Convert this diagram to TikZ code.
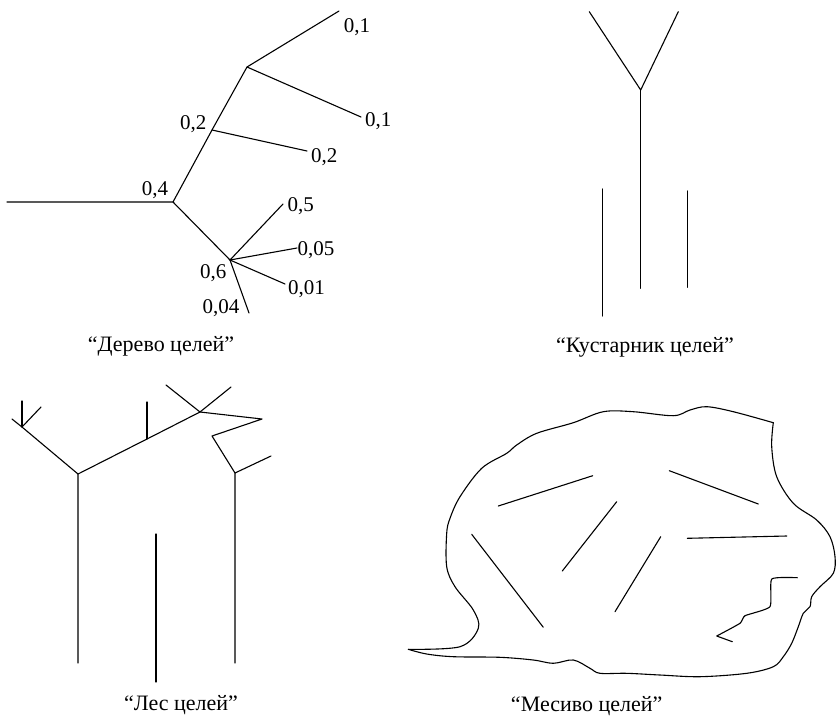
\documentclass[tikz,border=0pt]{standalone}
\usepackage{fontspec}
\setmainfont{Liberation Serif}
\begin{document}
\begin{tikzpicture}[x=1pt,y=-1pt,
  ln/.style={line width=1.1pt,line cap=round,line join=round},
  lbl/.style={anchor=base,inner sep=0pt,font=\fontsize{21}{24}\selectfont},
  capt/.style={anchor=base,inner sep=0pt,font=\fontsize{22}{25}\selectfont}]
\useasboundingbox (0,0) rectangle (837,715);
% ---------- Tree of goals ----------
\coordinate (t0) at (7,202);
\coordinate (t1) at (173,202);
\coordinate (t2) at (212,130);
\coordinate (t3) at (247,67);
\coordinate (t3a) at (339,11);
\coordinate (t3b) at (361,117);
\coordinate (t2a) at (307,151);
\coordinate (t4) at (230,260);
\coordinate (t4a) at (283,204);
\coordinate (t4b) at (297,248);
\coordinate (t4c) at (285,284);
\coordinate (t4d) at (249,313);
\draw[ln] (t0) -- (t1) -- (t2) -- (t3) -- (t3a);
\draw[ln] (t3) -- (t3b);
\draw[ln] (t2) -- (t2a);
\draw[ln] (t1) -- (t4) -- (t4a);
\draw[ln] (t4) -- (t4b);
\draw[ln] (t4) -- (t4c);
\draw[ln] (t4) -- (t4d);
\node[lbl] (l1) at (357,32.3) {0,1};
\node[lbl] (l2) at (378.3,126) {0,1};
\node[lbl] (l3) at (324.2,162.3) {0,2};
\node[lbl] (l4) at (193.3,129.3) {0,2};
\node[lbl] (l5) at (155,195) {0,4};
\node[lbl] (l6) at (300.8,211) {0,5};
\node[lbl] (l7) at (316,255.7) {0,05};
\node[lbl] (l8) at (306.5,294) {0,01};
\node[lbl] (l9) at (213.3,278.3) {0,6};
\node[lbl] (l10) at (221,313.3) {0,04};
\node[capt] (c1) at (161,351.7) {“Дерево целей”};
% ---------- Bush of goals ----------
\coordinate (b0) at (640.7,90);
\coordinate (b1) at (589.3,11.7);
\coordinate (b2) at (678.3,11.7);
\coordinate (b3) at (640.7,288.3);
\draw[ln] (b1) -- (b0) -- (b2);
\draw[ln] (b0) -- (b3);
\coordinate (b4) at (602.3,189);
\coordinate (b5) at (602.3,316);
\draw[ln] (b4) -- (b5);
\coordinate (b6) at (687.3,191);
\coordinate (b7) at (687.3,287.3);
\draw[ln] (b6) -- (b7);
\node[capt] (c2) at (645,352) {“Кустарник целей”};
% ---------- Forest of goals ----------
\coordinate (f0) at (78,663);
\coordinate (f1) at (78,474);
\coordinate (f2) at (22,427);
\coordinate (f3) at (12,419);
\coordinate (f4) at (22,401);
\coordinate (f5) at (41,407);
\coordinate (f6) at (147,439);
\coordinate (f7) at (147,402);
\coordinate (f8) at (200,412);
\coordinate (f9) at (166,385);
\coordinate (f10) at (231,387);
\coordinate (f11) at (262,419);
\coordinate (f12) at (212,436);
\coordinate (f13) at (235,473);
\coordinate (f14) at (235,663);
\coordinate (f15) at (271,456);
\coordinate (f16) at (156,534);
\coordinate (f17) at (156,682);
\draw[ln] (f0) -- (f1) -- (f2) -- (f3);
\draw[ln] (f2) -- (f4);
\draw[ln] (f2) -- (f5);
\draw[ln] (f1) -- (f6) -- (f8) -- (f11) -- (f12) -- (f13) -- (f14);
\draw[ln] (f6) -- (f7);
\draw[ln] (f8) -- (f9);
\draw[ln] (f8) -- (f10);
\draw[ln] (f13) -- (f15);
\draw[ln] (f16) -- (f17);
\node[capt] (c3) at (181,710) {“Лес целей”};
% ---------- Mess of goals ----------
\draw[ln] plot[smooth,tension=0.55] coordinates {
  (408.3,649.3) (460,646.7) (478.3,628.3) (473.3,610) (455,586.7)
  (446.7,566.7) (446.7,533.3) (450,518.3) (460,496.7) (481.7,468.3)
  (506.7,453.3) (516.7,445) (536.7,433.3) (573.3,422.7) (603.3,411.7)
  (633.3,411.7) (673.3,415.7) (690,410) (706.7,406.7) (733.3,411.7)
  (773.3,422.7)};
\draw[ln] plot[smooth,tension=0.55] coordinates {
  (773.3,422.7) (771.7,446.7) (776.7,476.7) (793.3,503.3) (816.7,520)
  (830,536.7) (835,556.7) (833.3,573.3) (820,586.7) (811.7,596.7)
  (810,606.7) (803.3,613.3) (798.3,626.7) (791.7,643.3) (783.3,656.7)
  (773.3,666.7) (746.7,673.3) (700,676.7) (660,675) (626.7,673.3)
  (600,673.3) (590,668.3) (573.3,660) (553.3,663.3) (533.3,660)
  (500,657.3) (453.3,656.7) (426.7,654) (408.3,649.3)};
\draw[ln] plot[smooth,tension=0.3] coordinates {
  (797.3,577.7) (771.7,579) (770,606.7) (745,615.7) (740,623.3) (716.7,636)}
  -- (732.3,641.7);
\coordinate (m1a) at (498.3,506); \coordinate (m1b) at (592.7,475.7);
\coordinate (m2a) at (669.3,470.7); \coordinate (m2b) at (758.3,504);
\coordinate (m3a) at (616.7,501.7); \coordinate (m3b) at (562.3,571);
\coordinate (m4a) at (687.3,538.3); \coordinate (m4b) at (786.7,536);
\coordinate (m5a) at (471.7,534.3); \coordinate (m5b) at (543.3,627.3);
\coordinate (m6a) at (660.7,536.7); \coordinate (m6b) at (615,611.7);
\draw[ln] (m1a) -- (m1b);
\draw[ln] (m2a) -- (m2b);
\draw[ln] (m3a) -- (m3b);
\draw[ln] (m4a) -- (m4b);
\draw[ln] (m5a) -- (m5b);
\draw[ln] (m6a) -- (m6b);
\node[capt] (c4) at (586.7,711) {“Месиво целей”};
\end{tikzpicture}
\end{document}
